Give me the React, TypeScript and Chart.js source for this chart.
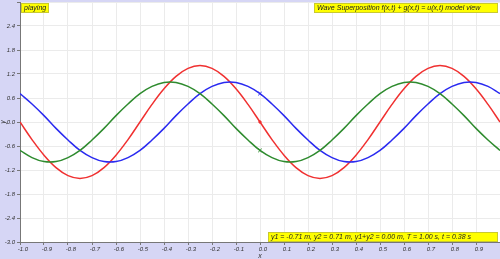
import React, { useEffect, useRef } from "react";
import { Chart, registerables } from "chart.js";

Chart.register(...registerables);

const xValues = [
  -1.0, -0.95, -0.9, -0.85, -0.8, -0.75, -0.7, -0.65, -0.6, -0.55, -0.5, -0.45, -0.4, -0.35, -0.3, -0.25, -0.2, -0.15, -0.1, -0.05,
  0.0, 0.05, 0.1, 0.15, 0.2, 0.25, 0.3, 0.35, 0.4, 0.45, 0.5, 0.55, 0.6, 0.65, 0.7, 0.75, 0.8, 0.85, 0.9, 0.95, 1.0,
];
const blueWave = [
  0.71, 0.45, 0.16, -0.16, -0.45, -0.71, -0.89, -0.99, -0.99, -0.89, -0.71, -0.45, -0.16, 0.16, 0.45, 0.71, 0.89, 0.99, 0.99, 0.89,
  0.71, 0.45, 0.16, -0.16, -0.45, -0.71, -0.89, -0.99, -0.99, -0.89, -0.71, -0.45, -0.16, 0.16, 0.45, 0.71, 0.89, 0.99, 0.99, 0.89, 0.71,
];
const greenWave = [
  -0.71, -0.89, -0.99, -0.99, -0.89, -0.71, -0.45, -0.16, 0.16, 0.45, 0.71, 0.89, 0.99, 0.99, 0.89, 0.71, 0.45, 0.16, -0.16, -0.45,
  -0.71, -0.89, -0.99, -0.99, -0.89, -0.71, -0.45, -0.16, 0.16, 0.45, 0.71, 0.89, 0.99, 0.99, 0.89, 0.71, 0.45, 0.16, -0.16, -0.45, -0.71,
];
const redWave = [
  0.0, -0.44, -0.83, -1.14, -1.34, -1.41, -1.34, -1.14, -0.83, -0.44, 0.0, 0.44, 0.83, 1.14, 1.34, 1.41, 1.34, 1.14, 0.83, 0.44,
  0.0, -0.44, -0.83, -1.14, -1.34, -1.41, -1.34, -1.14, -0.83, -0.44, 0.0, 0.44, 0.83, 1.14, 1.34, 1.41, 1.34, 1.14, 0.83, 0.44, 0.0,
];
const markerX = 0.0;
const markerBlue = 0.71;
const markerGreen = -0.71;
const markerRed = 0.0;

const statusText = "playing";
const titleText = "Wave Superposition f(x,t) + g(x,t) = u(x,t) model view";
const readoutText = "y1 = -0.71 m, y2 = 0.71 m, y1+y2 = 0.00 m, T = 1.00 s, t = 0.38 s";
const xTitle = "x";
const yTitle = "y";

const FONT = "italic 7px 'Liberation Sans', Arial, sans-serif";

const decorPlugin = {
  id: "decor",
  beforeDraw(chart: any) {
    const { ctx, chartArea } = chart;
    ctx.save();
    ctx.fillStyle = "#d6d6f5";
    ctx.fillRect(0, 0, chart.width, chart.height);
    ctx.fillStyle = "#ffffff";
    ctx.fillRect(chartArea.left, chartArea.top, chartArea.right - chartArea.left, chartArea.bottom - chartArea.top);
    ctx.restore();
  },
  afterDraw(chart: any) {
    const { ctx, chartArea } = chart;
    ctx.save();
    ctx.font = FONT;
    ctx.textBaseline = "middle";
    const box = (x: number, y: number, w: number, h: number, text: string) => {
      ctx.fillStyle = "#ffff00";
      ctx.fillRect(x, y, w, h);
      ctx.strokeStyle = "#c9c930";
      ctx.lineWidth = 1;
      ctx.strokeRect(x + 0.5, y + 0.5, w - 1, h - 1);
      ctx.fillStyle = "#222222";
      ctx.textAlign = "left";
      ctx.fillText(text, x + 3, y + h / 2 + 0.5);
    };
    box(chartArea.left + 1, 3, 28, 10, statusText);
    box(314, 3, 184, 10, titleText);
    box(268, chartArea.bottom - 10, 230, 10, readoutText);
    ctx.fillStyle = "#333333";
    ctx.textAlign = "center";
    ctx.fillText(xTitle, chartArea.left + (chartArea.right - chartArea.left) / 2, chart.height - 3);
    ctx.translate(3, (chartArea.top + chartArea.bottom) / 2);
    ctx.rotate(-Math.PI / 2);
    ctx.fillText(yTitle, 0, 0);
    ctx.restore();
  },
};

export default function App() {
  const ref = useRef<HTMLCanvasElement | null>(null);
  useEffect(() => {
    document.body.style.margin = "0";
    const line = (data: number[], color: string) => ({
      data: xValues.map((x, i) => ({ x, y: data[i] })),
      borderColor: color,
      borderWidth: 1.5,
      pointRadius: 0,
      showLine: true,
      tension: 0.4,
      fill: false,
    });
    const marker = (y: number, color: string, style: string) => ({
      data: [{ x: markerX, y }],
      borderColor: color,
      backgroundColor: color,
      showLine: false,
      pointStyle: style,
      pointRadius: style === "circle" ? 1.2 : 2.5,
      borderWidth: 1,
    });
    const font = { size: 6, style: "italic", family: "'Liberation Sans', Arial, sans-serif" };
    const chart = new Chart(ref.current as HTMLCanvasElement, {
      type: "scatter",
      data: {
        datasets: [
          line(greenWave, "#2e8b2e"),
          line(blueWave, "#2a2af0"),
          line(redWave, "#f03030"),
          marker(markerBlue, "#2a2af0", "crossRot"),
          marker(markerGreen, "#2e8b2e", "crossRot"),
          marker(markerRed, "#f03030", "circle"),
        ] as any,
      },
      plugins: [decorPlugin],
      options: {
        animation: false,
        responsive: false,
        events: [],
        layout: { autoPadding: false, padding: { top: 2, right: 0, left: 0, bottom: 0 } },
        plugins: { legend: { display: false }, tooltip: { enabled: false } },
        scales: {
          x: {
            type: "linear",
            min: -1,
            max: 1,
            afterFit: (s: any) => {
              s.height = 17;
              s.paddingLeft = 0;
              s.paddingRight = 0;
            },
            border: { color: "#777777", width: 1 },
            grid: { color: "#ebebeb", tickLength: 3, tickColor: "#777777", lineWidth: 1 },
            ticks: {
              stepSize: 0.1,
              padding: 1,
              labelOffset: 3,
              maxRotation: 0,
              autoSkip: false,
              color: "#333333",
              font,
              callback: (v: any) => (Math.abs(v - 1) < 1e-6 ? "" : Number(v).toFixed(1)),
            },
          },
          y: {
            type: "linear",
            min: -3,
            max: 3,
            afterFit: (s: any) => {
              s.width = 20;
              s.paddingTop = 0;
              s.paddingBottom = 0;
            },
            border: { color: "#777777", width: 1 },
            grid: { color: "#ebebeb", tickLength: 3, tickColor: "#777777", lineWidth: 1 },
            ticks: {
              stepSize: 0.6,
              padding: 2,
              autoSkip: false,
              color: "#333333",
              font,
              callback: (v: any) => (Math.abs(v - 3) < 1e-6 ? "" : Number(v).toFixed(1)),
            },
          },
        },
      } as any,
    });
    return () => chart.destroy();
  }, []);
  return (
    <div style={{ position: "fixed", left: 0, top: 0, width: 500, height: 259 }}>
      <canvas ref={ref} width={500} height={259} style={{ display: "block", width: 500, height: 259 }} />
    </div>
  );
}
